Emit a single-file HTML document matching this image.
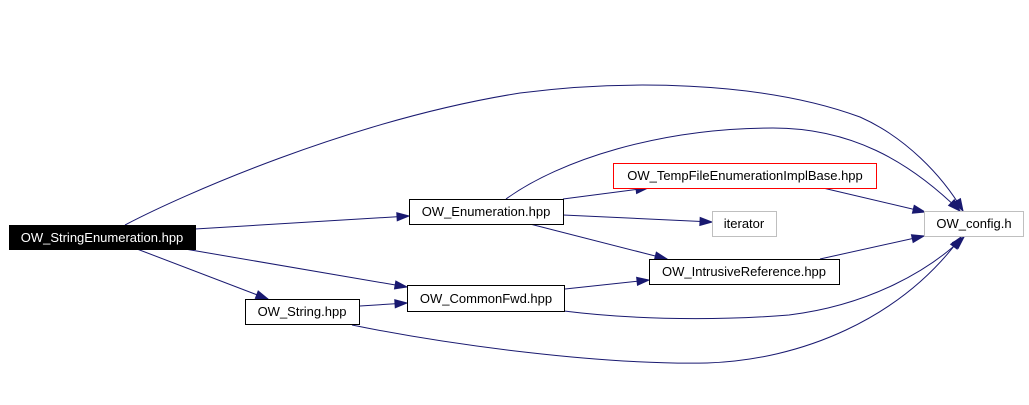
<!DOCTYPE html>
<html><head><meta charset="utf-8"><style>
html,body{margin:0;padding:0;background:#fff;}
svg{display:block;}
text{font-family:"Liberation Sans",Arial,sans-serif;font-size:13px;}
</style></head><body>
<svg width="1029" height="405" viewBox="0 0 1029 405" xmlns="http://www.w3.org/2000/svg">
<defs>
<marker id="a" markerUnits="userSpaceOnUse" markerWidth="14" markerHeight="11" refX="12" refY="4.5" orient="auto" overflow="visible">
<path d="M0,0.5 L12,4.5 L0,8.5 z" fill="#191970" stroke="#191970" stroke-width="1"/>
</marker>
</defs>
<g fill="none" stroke="#191970" stroke-width="1" marker-end="url(#a)">
<path d="M125,225 C180,196 350,120 520,93 C620,80 760,80 860,117 C905,137 942,175 963,211"/>
<path d="M506,199 C560,160 660,128 773,128 C850,128 908,160 960,211"/>
<path d="M195,229 L409,216"/>
<path d="M185,249 L407,287"/>
<path d="M137,249 L268,299"/>
<path d="M360,306 L407,303"/>
<path d="M565,289 L649,280"/>
<path d="M820,259 L924,236"/>
<path d="M563,199 L648,188"/>
<path d="M563,215 L712,222"/>
<path d="M530,224 L667,259"/>
<path d="M823,188 L925,212"/>
<path d="M564,311 C620,318 700,322 789,315 C870,305 930,270 964,237"/>
<path d="M352,325 C450,345 600,365 707,363 C800,360 900,320 961,237"/>
</g>
<g stroke-width="1">
<rect x="9.5" y="225.5" width="186" height="24" fill="#000" stroke="#000"/>
<rect x="245.5" y="299.5" width="114" height="25" fill="#fff" stroke="#000"/>
<rect x="409.5" y="199.5" width="154" height="25" fill="#fff" stroke="#000"/>
<rect x="613.5" y="163.5" width="263" height="25" fill="#fff" stroke="#ff0000"/>
<rect x="712.5" y="211.5" width="64" height="25" fill="#fff" stroke="#bfbfbf"/>
<rect x="649.5" y="259.5" width="190" height="25" fill="#fff" stroke="#000"/>
<rect x="407.5" y="285.5" width="157" height="26" fill="#fff" stroke="#000"/>
<rect x="924.5" y="211.5" width="99" height="25" fill="#fff" stroke="#bfbfbf"/>
</g>
<g text-anchor="middle">
<text x="102" y="242" fill="#fff">OW_StringEnumeration.hpp</text>
<text x="302" y="316" fill="#000">OW_String.hpp</text>
<text x="486" y="216" fill="#000">OW_Enumeration.hpp</text>
<text x="745" y="180" fill="#000">OW_TempFileEnumerationImplBase.hpp</text>
<text x="744" y="228" fill="#000">iterator</text>
<text x="744" y="276" fill="#000">OW_IntrusiveReference.hpp</text>
<text x="486" y="303" fill="#000">OW_CommonFwd.hpp</text>
<text x="974" y="228" fill="#000">OW_config.h</text>
</g>
</svg>
</body></html>
